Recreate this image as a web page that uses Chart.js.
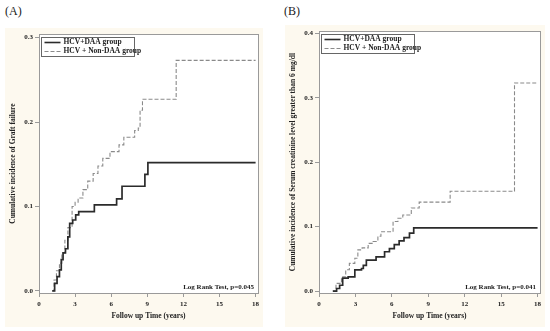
<!DOCTYPE html>
<html>
<head>
<meta charset="utf-8">
<script src="https://cdn.jsdelivr.net/npm/chart.js@4"></script>
<style>
  body { margin: 0; background: #ffffff; }
  #wrap { position: relative; width: 550px; height: 331px; font-family: "Liberation Serif", serif; }
  .tag { position: absolute; font-size: 12px; color: #222; }
  .panel { position: absolute; background: #fdf9ef; }
</style>
</head>
<body>
<div id="wrap">
  <div class="tag" style="left:5px; top:4px;">(A)</div>
  <div class="tag" style="left:284px; top:4px;">(B)</div>
  <div class="panel" style="left:5px; top:28px; width:258px; height:299px;"><canvas id="chartA" width="258" height="299"></canvas></div>
  <div class="panel" style="left:285px; top:25px; width:260px; height:302px;"><canvas id="chartB" width="260" height="302"></canvas></div>
</div>
<script>
// Label seri dan teks
const seriesNames = ['HCV+DAA group', 'HCV + Non-DAA group'];
const xTicks = [0, 3, 6, 9, 12, 15, 18];
const yTicksA = [0, 0.1, 0.2, 0.3];
const yTicksB = [0, 0.1, 0.2, 0.3, 0.4];

// (A) Graft failure - kurva kumulatif [tahun, insiden]
const graftDAA = [
  [1.1, 0], [1.3, 0.009], [1.5, 0.017], [1.7, 0.025], [1.85, 0.037], [2.0, 0.045],
  [2.2, 0.05], [2.4, 0.064], [2.55, 0.08], [2.8, 0.084], [3.05, 0.09], [3.3, 0.094],
  [4.6, 0.102], [6.45, 0.109], [6.9, 0.124], [8.8, 0.138], [9.05, 0.152], [18, 0.152]
];
const graftNonDAA = [
  [1.1, 0], [1.25, 0.013], [1.45, 0.024], [1.7, 0.033], [1.9, 0.045], [2.15, 0.06],
  [2.4, 0.075], [2.75, 0.1], [3.0, 0.105], [3.25, 0.11], [3.65, 0.12], [4.05, 0.13],
  [4.5, 0.139], [4.9, 0.148], [5.3, 0.157], [5.9, 0.165], [6.65, 0.173], [7.05, 0.182],
  [7.95, 0.19], [8.25, 0.193], [8.4, 0.214], [8.6, 0.227], [11.4, 0.273], [18, 0.273]
];

// (B) Serum creatinine > 6 mg/dl
const creatDAA = [
  [1.15, 0], [1.45, 0.004], [1.7, 0.009], [1.95, 0.02], [2.4, 0.022], [2.95, 0.033],
  [3.5, 0.035], [3.65, 0.04], [3.9, 0.048], [4.7, 0.053], [5.4, 0.061], [5.8, 0.066],
  [6.2, 0.072], [6.6, 0.078], [7.0, 0.083], [7.45, 0.09], [7.8, 0.098], [18, 0.098]
];
const creatNonDAA = [
  [1.1, 0], [1.4, 0.012], [1.85, 0.022], [2.2, 0.033], [2.5, 0.043], [2.95, 0.051],
  [3.2, 0.064], [3.55, 0.067], [4.05, 0.074], [4.45, 0.077], [4.85, 0.085], [5.1, 0.092],
  [6.1, 0.108], [6.5, 0.113], [6.9, 0.118], [7.6, 0.129], [8.25, 0.138], [10.8, 0.155],
  [16.1, 0.323], [18, 0.323]
];

const FONT = { family: '"Liberation Serif", serif', size: 7, weight: 'bold' };
const TITLE_FONT = { family: '"Liberation Serif", serif', size: 7.5, weight: 'bold' };

// Plugin: latar putih area plot, bingkai, legenda dan teks log rank
const boxPlugin = {
  id: 'boxPlugin',
  beforeDraw(chart) {
    const a = chart.chartArea, ctx = chart.ctx;
    ctx.save();
    ctx.fillStyle = '#ffffff';
    ctx.fillRect(a.left, a.top, a.right - a.left, a.bottom - a.top);
    ctx.restore();
  },
  afterDraw(chart, args, opts) {
    const a = chart.chartArea, ctx = chart.ctx;
    ctx.save();
    ctx.strokeStyle = '#9a9a9a';
    ctx.lineWidth = 1;
    ctx.strokeRect(Math.round(a.left) + 0.5, Math.round(a.top) + 0.5, Math.round(a.right - a.left), Math.round(a.bottom - a.top));

    // legenda
    const lx = Math.round(a.left) + 2.5, ly = Math.round(a.top) + 3.5;
    ctx.strokeStyle = '#666';
    ctx.strokeRect(lx, ly, 93, 19);
    ctx.font = 'bold 7.5px "Liberation Serif", serif';
    ctx.textBaseline = 'middle';
    ctx.fillStyle = '#222';
    chart.data.datasets.forEach((ds, i) => {
      const y = ly + 5 + i * 9;
      ctx.strokeStyle = ds.borderColor;
      ctx.lineWidth = i === 0 ? 1.6 : 1;
      ctx.setLineDash(ds.borderDash || []);
      ctx.beginPath();
      ctx.moveTo(lx + 3, y);
      ctx.lineTo(lx + 19, y);
      ctx.stroke();
      ctx.setLineDash([]);
      ctx.fillText(ds.label, lx + 22, y);
    });

    // teks uji log rank
    ctx.textAlign = 'right';
    ctx.textBaseline = 'alphabetic';
    ctx.font = 'bold 7px "Liberation Serif", serif';
    ctx.fillText(opts.text, a.right - 4, a.bottom - 4);
    ctx.restore();
  }
};

function buatGrafik(id, daa, nonDaa, yTicks, yMin, yMax, yTitle, logRank) {
  const ctx = document.getElementById(id).getContext('2d');
  return new Chart(ctx, {
    type: 'line',
    data: {
      datasets: [
        {
          label: seriesNames[0],
          data: daa.map(p => ({ x: p[0], y: p[1] })),
          borderColor: '#2b2b2b',
          borderWidth: 1.7,
          stepped: true,
          pointRadius: 0,
          fill: false
        },
        {
          label: seriesNames[1],
          data: nonDaa.map(p => ({ x: p[0], y: p[1] })),
          borderColor: '#8a8a8a',
          borderWidth: 1.1,
          borderDash: [4, 2],
          stepped: true,
          pointRadius: 0,
          fill: false
        }
      ]
    },
    options: {
      responsive: false,
      animation: false,
      layout: { padding: { top: 6, right: 5, left: 0, bottom: 0 } },
      plugins: {
        legend: { display: false },
        tooltip: { enabled: false },
        boxPlugin: { text: logRank }
      },
      scales: {
        x: {
          type: 'linear',
          min: 0,
          max: 18.2,
          afterFit: s => { s.height = 34; },
          afterBuildTicks: s => { s.ticks = xTicks.map(v => ({ value: v })); },
          grid: { drawOnChartArea: false, tickLength: 4, color: '#9a9a9a' },
          border: { display: false },
          ticks: { font: FONT, color: '#222', padding: 3, maxRotation: 0 },
          title: { display: true, text: 'Follow up Time (years)', font: TITLE_FONT, color: '#222', padding: { top: 3, bottom: 6 } }
        },
        y: {
          min: yMin,
          max: yMax,
          afterFit: s => { s.width = 34; },
          afterBuildTicks: s => { s.ticks = yTicks.map(v => ({ value: v })); },
          grid: { drawOnChartArea: false, tickLength: 4, color: '#9a9a9a' },
          border: { display: false },
          ticks: { font: FONT, color: '#222', padding: 2, callback: v => v.toFixed(1) },
          title: { display: true, text: yTitle, font: TITLE_FONT, color: '#222', padding: { top: 4, bottom: 0 } }
        }
      }
    },
    plugins: [boxPlugin]
  });
}

buatGrafik('chartA', graftDAA, graftNonDAA, yTicksA, -0.0024, 0.304,
  'Cumulative incidence of Graft failure', 'Log Rank Test, p=0.045');
buatGrafik('chartB', creatDAA, creatNonDAA, yTicksB, -0.003, 0.4033,
  'Cumulative incidence of Serum creatinine level greater than 6 mg/dl', 'Log Rank Test, p=0.041');
</script>
</body>
</html>
